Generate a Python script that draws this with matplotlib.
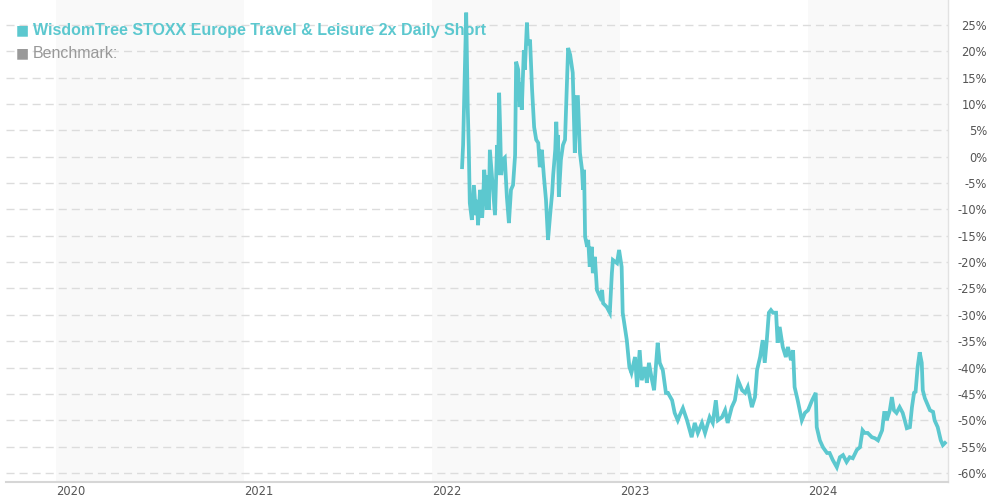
import numpy as np
import pandas as pd
import matplotlib
matplotlib.use("Agg")
import matplotlib.pyplot as plt

# Fund performance (%)
dates_2022 = ["2022-02-28", "2022-03-02", "2022-03-08", "2022-03-11", "2022-03-13", "2022-03-15",
              "2022-03-19", "2022-03-23", "2022-03-27", "2022-03-29", "2022-03-31", "2022-04-04",
              "2022-04-08", "2022-04-10", "2022-04-12", "2022-04-16", "2022-04-17", "2022-04-19",
              "2022-04-21", "2022-04-23", "2022-04-29", "2022-05-03", "2022-05-07", "2022-05-09",
              "2022-05-11", "2022-05-13", "2022-05-15", "2022-05-18", "2022-05-22", "2022-05-26",
              "2022-05-30", "2022-06-03", "2022-06-07", "2022-06-11", "2022-06-13", "2022-06-17",
              "2022-06-20", "2022-06-22", "2022-06-24", "2022-06-28", "2022-06-30", "2022-07-04",
              "2022-07-06", "2022-07-10", "2022-07-14", "2022-07-18", "2022-07-22", "2022-07-26",
              "2022-07-29", "2022-08-02", "2022-08-06", "2022-08-10", "2022-08-14", "2022-08-18",
              "2022-08-22", "2022-08-24", "2022-08-28", "2022-08-30", "2022-09-01", "2022-09-02",
              "2022-09-04", "2022-09-08", "2022-09-12", "2022-09-16", "2022-09-22", "2022-09-26",
              "2022-10-01", "2022-10-05", "2022-10-09", "2022-10-11", "2022-10-15", "2022-10-19",
              "2022-10-21", "2022-10-23", "2022-10-25", "2022-10-29", "2022-10-31", "2022-11-03",
              "2022-11-07", "2022-11-09", "2022-11-13", "2022-11-17", "2022-11-23", "2022-11-27",
              "2022-11-29", "2022-12-06", "2022-12-12", "2022-12-16", "2022-12-18", "2022-12-26",
              "2022-12-30"]
values_2022 = [-2.0, 2.2, 27.3, 9.4, 1.9, -8.8,
               -12.0, -5.4, -11.1, -8.2, -13.0, -6.3,
               -11.6, -8.2, -2.5, -7.3, -10.1, -3.5,
               -10.1, 1.3, -6.3, -11.1, 2.2, -3.5,
               12.1, 5.1, -3.5, -0.6, -0.2, -7.6,
               -12.6, -6.3, -5.4, 0.3, 18.0, 16.5,
               9.4, 14.0, 8.9, 20.2, 16.5, 25.4,
               21.2, 22.2, 12.7, 5.6, 3.2, 2.6,
               -2.0, 1.3, -3.8, -8.2, -15.8, -11.1,
               -6.9, -3.5, 1.3, 6.6, 1.3, 4.1,
               -7.6, -0.6, 2.2, 3.2, 20.6, 19.3,
               15.9, 0.7, 11.3, 11.3, 0.7, -2.5,
               -6.3, -2.5, -15.2, -17.1, -15.8, -20.9,
               -17.1, -22.1, -19.0, -25.3, -26.6, -25.3,
               -27.8, -28.5, -29.6, -22.1, -19.6, -20.2,
               -17.7]

dates_2023 = ["2023-01-04", "2023-01-06", "2023-01-14", "2023-01-19", "2023-01-23", "2023-01-30",
              "2023-02-03", "2023-02-08", "2023-02-12", "2023-02-18", "2023-02-22", "2023-02-26",
              "2023-03-04", "2023-03-08", "2023-03-13", "2023-03-15", "2023-03-19", "2023-03-25",
              "2023-03-31", "2023-04-04", "2023-04-12", "2023-04-17", "2023-04-23", "2023-04-27",
              "2023-05-03", "2023-05-11", "2023-05-20", "2023-05-26", "2023-06-01", "2023-06-09",
              "2023-06-15", "2023-06-24", "2023-06-30", "2023-07-06", "2023-07-10", "2023-07-18",
              "2023-07-24", "2023-07-29", "2023-08-06", "2023-08-12", "2023-08-18", "2023-08-26",
              "2023-09-01", "2023-09-06", "2023-09-10", "2023-09-14", "2023-09-20", "2023-09-24",
              "2023-09-30", "2023-10-05", "2023-10-09", "2023-10-13", "2023-10-17", "2023-10-21",
              "2023-10-25", "2023-10-31", "2023-11-03", "2023-11-07", "2023-11-13", "2023-11-19",
              "2023-11-23", "2023-11-29", "2023-12-03", "2023-12-06", "2023-12-12", "2023-12-20",
              "2023-12-26"]
values_2023 = [-20.9, -29.6, -34.8, -39.9, -41.0, -38.0,
               -43.7, -36.7, -42.4, -39.9, -42.9, -39.1,
               -42.4, -44.3, -38.0, -35.3, -39.1, -40.5,
               -44.8, -44.8, -46.2, -48.6, -50.0, -49.0,
               -47.7, -50.0, -53.2, -50.5, -52.4, -50.5,
               -52.4, -49.4, -50.5, -46.2, -50.0, -49.4,
               -48.1, -50.5, -47.5, -46.2, -42.4, -44.3,
               -44.8, -43.7, -45.6, -47.5, -45.6, -40.5,
               -38.0, -34.8, -39.1, -34.8, -29.6, -29.1,
               -29.6, -29.6, -35.3, -32.3, -36.1, -38.0,
               -36.1, -38.6, -36.7, -43.7, -46.2, -50.0,
               -48.6]

dates_2024 = ["2024-01-01", "2024-01-09", "2024-01-16", "2024-01-18", "2024-01-24", "2024-01-30",
              "2024-02-07", "2024-02-12", "2024-02-18", "2024-02-26", "2024-03-03", "2024-03-09",
              "2024-03-16", "2024-03-22", "2024-03-28", "2024-04-05", "2024-04-11", "2024-04-16",
              "2024-04-20", "2024-04-26", "2024-05-04", "2024-05-10", "2024-05-16", "2024-05-24",
              "2024-05-28", "2024-05-31", "2024-06-02", "2024-06-08", "2024-06-12", "2024-06-16",
              "2024-06-21", "2024-06-27", "2024-07-03", "2024-07-07", "2024-07-11", "2024-07-17",
              "2024-07-21", "2024-07-25", "2024-07-28", "2024-08-01", "2024-08-05", "2024-08-09",
              "2024-08-11", "2024-08-15", "2024-08-19", "2024-08-25", "2024-08-31", "2024-09-03",
              "2024-09-09", "2024-09-15", "2024-09-19", "2024-09-23"]
values_2024 = [-48.1, -46.2, -44.8, -51.3, -53.8, -55.1,
               -56.2, -56.2, -57.5, -58.9, -57.0, -56.6,
               -57.9, -57.0, -57.2, -55.6, -55.1, -51.9,
               -52.4, -52.4, -53.2, -53.4, -53.8, -51.9,
               -48.6, -48.6, -50.0, -48.1, -45.6, -48.1,
               -48.6, -47.5, -48.6, -50.0, -51.5, -51.3,
               -47.5, -44.8, -44.6, -39.9, -37.1, -39.1,
               -44.3, -45.8, -46.7, -48.1, -48.4, -50.0,
               -51.3, -53.8, -54.7, -54.3]

fund_name = "WisdomTree STOXX Europe Travel & Leisure 2x Daily Short"
bench_name = "Benchmark:"
years = [2020, 2021, 2022, 2023, 2024]
y_ticks = list(range(25, -61, -5))

TEAL = "#5cc8cf"

dates = pd.to_datetime(dates_2022 + dates_2023 + dates_2024)
values = np.array(values_2022 + values_2023 + values_2024)

fig = plt.figure(figsize=(9.89, 5.0), dpi=100)
ax = fig.add_axes([6 / 989, 18 / 500, 942 / 989, 482 / 500])

x_start = pd.Timestamp("2019-09-26")
x_end = pd.Timestamp("2024-09-29")
ax.set_xlim(x_start, x_end)
ax.set_ylim(-61.7, 29.7)

# alternating year shading
for yr in years[::2]:
    ax.axvspan(pd.Timestamp(yr, 1, 1), min(pd.Timestamp(yr + 1, 1, 1), x_end),
               color="#f9f9f9", lw=0, zorder=0)

for t in y_ticks:
    ax.axhline(t, color="#dcdcdc", lw=1.0, dashes=(5.8, 3.6), zorder=1)

ax.plot(dates, values, color=TEAL, lw=2.7, solid_joinstyle="miter", zorder=4)

# axes styling
for s in ["left", "top"]:
    ax.spines[s].set_visible(False)
ax.spines["bottom"].set_color("#d6d6d6")
ax.spines["bottom"].set_linewidth(1.5)
ax.spines["right"].set_color("#e2e2e2")
ax.spines["right"].set_linewidth(1.0)

ax.yaxis.tick_right()
ax.set_yticks(y_ticks)
ax.set_yticklabels([f"{t}%" for t in y_ticks])
ax.tick_params(axis="y", length=0, pad=28, labelsize=8.3, labelcolor="#555555")
for lab in ax.get_yticklabels():
    lab.set_horizontalalignment("right")
    lab.set_fontfamily("DejaVu Sans")

ax.set_xticks([pd.Timestamp(yr, 1, 1) for yr in years])
ax.set_xticklabels([str(yr) for yr in years])
ax.tick_params(axis="x", length=0, pad=2, labelsize=8.3, labelcolor="#555555")
for lab in ax.get_xticklabels():
    lab.set_horizontalalignment("left")

# legend-like header
ax.text(10 / 942, 1 - 30 / 482, "\u25a0", transform=ax.transAxes, color=TEAL,
        fontsize=10, va="center", ha="left", family=["DejaVu Sans"], zorder=2)
ax.text(27 / 942, 1 - 30 / 482, fund_name, transform=ax.transAxes, color=TEAL,
        fontsize=11.5, fontweight="bold", va="center", ha="left",
        family=["Liberation Sans", "DejaVu Sans"], zorder=2)
ax.text(10 / 942, 1 - 53 / 482, "\u25a0", transform=ax.transAxes, color="#999999",
        fontsize=10, va="center", ha="left", family=["DejaVu Sans"], zorder=2)
ax.text(27 / 942, 1 - 53 / 482, bench_name, transform=ax.transAxes, color="#999999",
        fontsize=11.5, va="center", ha="left",
        family=["Liberation Sans", "DejaVu Sans"], zorder=2)

fig.savefig("out.png", dpi=100)
